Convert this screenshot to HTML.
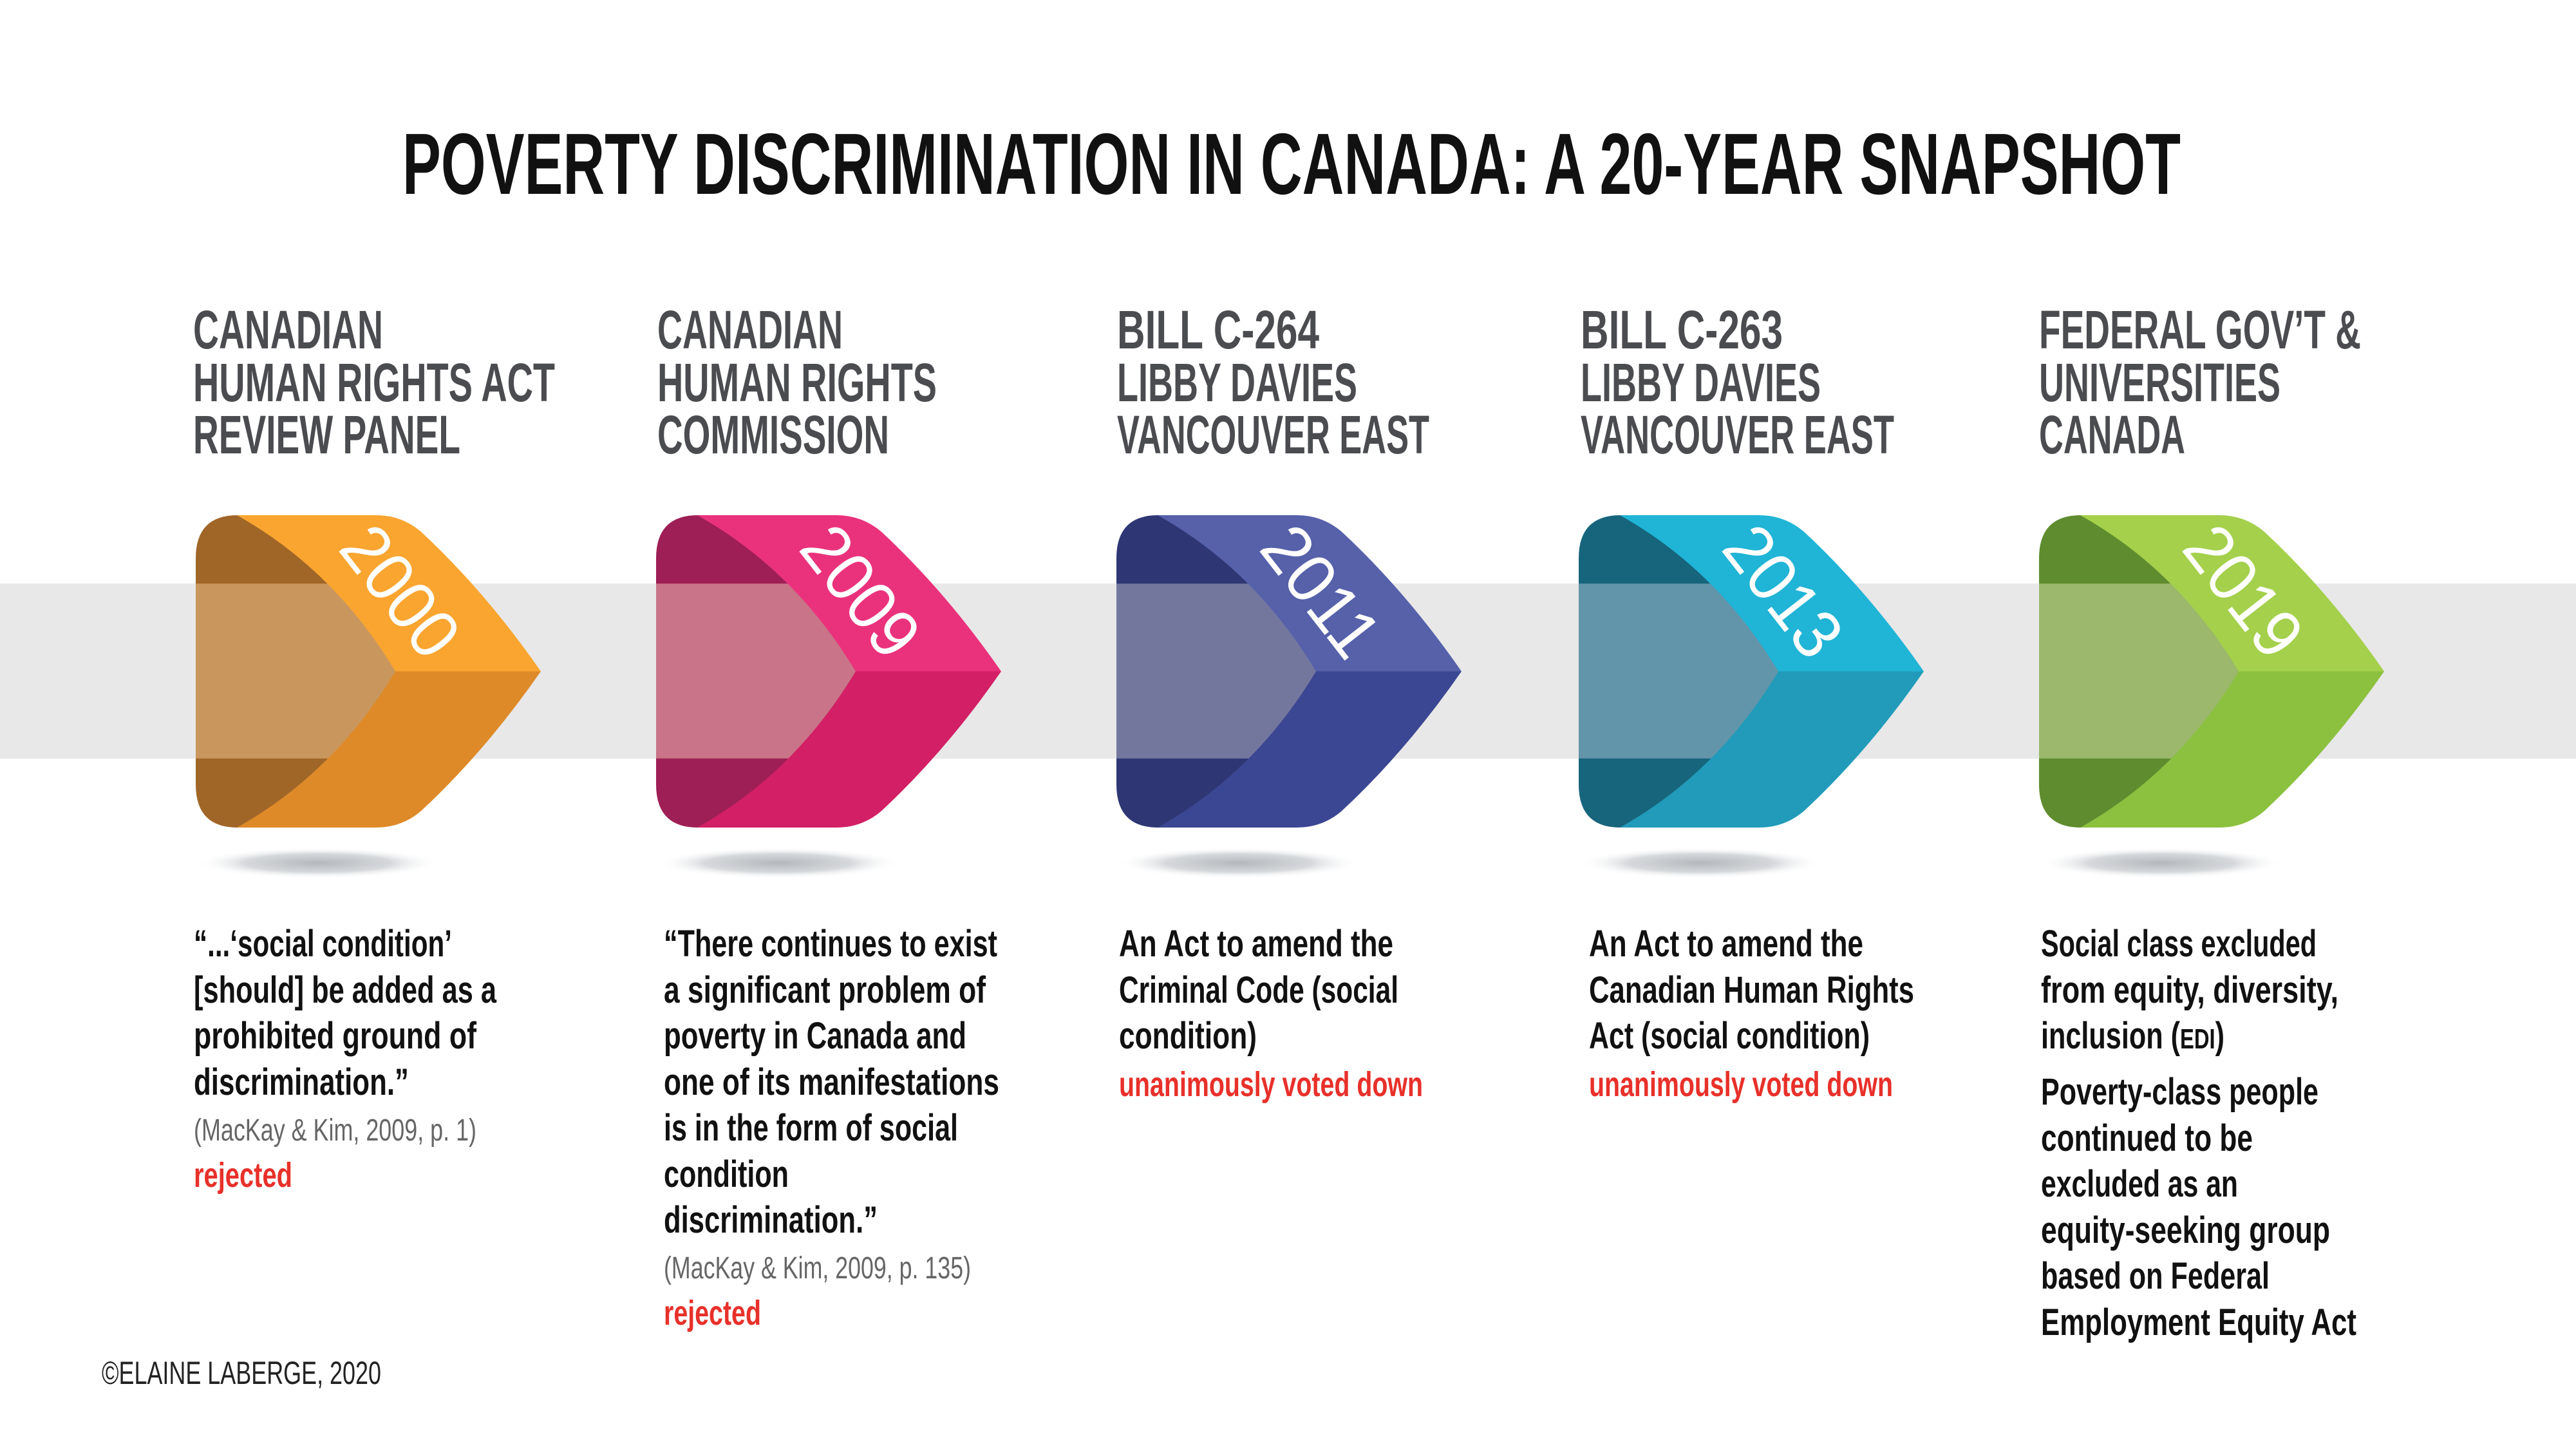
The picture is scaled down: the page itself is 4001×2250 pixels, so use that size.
<!DOCTYPE html>
<html><head><meta charset="utf-8"><style>
html,body{margin:0;padding:0;background:#fff;}
svg{display:block;}
text{font-family:"Liberation Sans Narrow","Liberation Sans",sans-serif;}
.h{font-size:84px;fill:#4b4c4f;font-weight:bold;}
.b{font-size:58px;fill:#111;font-weight:bold;}
.c{font-size:48px;fill:#666;}
.r{font-size:54px;fill:#e8302a;font-weight:bold;}
.y{font-size:108px;fill:#fff;}
</style></head><body>
<svg width="4001" height="2250" viewBox="0 0 4001 2250" xmlns="http://www.w3.org/2000/svg">
<defs>
<radialGradient id="sh" cx="50%" cy="50%" r="50%"><stop offset="0" stop-color="#b4b8bd"/><stop offset="0.6" stop-color="#d6d9dc"/><stop offset="1" stop-color="#fff" stop-opacity="0"/></radialGradient>
<clipPath id="bandc"><rect x="-10" y="103" width="600" height="263"/></clipPath>
</defs>
<rect width="4001" height="2250" fill="#fff"/>
<text x="625" y="301" font-size="135" font-weight="bold" fill="#111" textLength="2762" lengthAdjust="spacingAndGlyphs">POVERTY DISCRIMINATION IN CANADA: A 20-YEAR SNAPSHOT</text>

<text x="300" y="541" textLength="295" lengthAdjust="spacingAndGlyphs" class="h">CANADIAN</text>
<text x="300" y="623" textLength="562" lengthAdjust="spacingAndGlyphs" class="h">HUMAN RIGHTS ACT</text>
<text x="300" y="704" textLength="415" lengthAdjust="spacingAndGlyphs" class="h">REVIEW PANEL</text>
<text x="1021" y="541" textLength="288" lengthAdjust="spacingAndGlyphs" class="h">CANADIAN</text>
<text x="1021" y="623" textLength="434" lengthAdjust="spacingAndGlyphs" class="h">HUMAN RIGHTS</text>
<text x="1021" y="704" textLength="360" lengthAdjust="spacingAndGlyphs" class="h">COMMISSION</text>
<text x="1735" y="541" textLength="314" lengthAdjust="spacingAndGlyphs" class="h">BILL C-264</text>
<text x="1735" y="623" textLength="373" lengthAdjust="spacingAndGlyphs" class="h">LIBBY DAVIES</text>
<text x="1735" y="704" textLength="485" lengthAdjust="spacingAndGlyphs" class="h">VANCOUVER EAST</text>
<text x="2455" y="541" textLength="314" lengthAdjust="spacingAndGlyphs" class="h">BILL C-263</text>
<text x="2455" y="623" textLength="373" lengthAdjust="spacingAndGlyphs" class="h">LIBBY DAVIES</text>
<text x="2455" y="704" textLength="487" lengthAdjust="spacingAndGlyphs" class="h">VANCOUVER EAST</text>
<text x="3167" y="541" textLength="500" lengthAdjust="spacingAndGlyphs" class="h">FEDERAL GOV’T &amp;</text>
<text x="3167" y="623" textLength="375" lengthAdjust="spacingAndGlyphs" class="h">UNIVERSITIES</text>
<text x="3167" y="704" textLength="227" lengthAdjust="spacingAndGlyphs" class="h">CANADA</text>

<rect x="0" y="906" width="4001" height="272" fill="#e8e8e8"/>

<g transform="translate(304,800)">
<ellipse cx="190" cy="540" rx="190" ry="24" fill="url(#sh)"/>
<g transform="scale(1,1.032)">
<path d="M65,0 L200,0 L320,235 L200,470 L65,470 Q0,470 0,405 L0,65 Q0,0 65,0Z" fill="#a06628"/>
<path d="M65,0 L200,0 L320,235 L200,470 L65,470 Q0,470 0,405 L0,65 Q0,0 65,0Z" fill="#c9975e" clip-path="url(#bandc)"/>
<path d="M64,0 L280,0 Q320,0 350,25 Q450,115 536,235 L310,235 Q215,82 64,0Z" fill="#f9a530"/>
<path d="M310,235 L536,235 Q450,355 350,445 Q320,470 280,470 L64,470 Q215,388 310,235Z" fill="#de8a29"/>
</g>
<text class="y" transform="translate(318,118) rotate(52)" text-anchor="middle" dominant-baseline="central" textLength="225" lengthAdjust="spacingAndGlyphs">2000</text>
</g>
<g transform="translate(1019,800)">
<ellipse cx="190" cy="540" rx="190" ry="24" fill="url(#sh)"/>
<g transform="scale(1,1.032)">
<path d="M65,0 L200,0 L320,235 L200,470 L65,470 Q0,470 0,405 L0,65 Q0,0 65,0Z" fill="#9e1f55"/>
<path d="M65,0 L200,0 L320,235 L200,470 L65,470 Q0,470 0,405 L0,65 Q0,0 65,0Z" fill="#c97489" clip-path="url(#bandc)"/>
<path d="M64,0 L280,0 Q320,0 350,25 Q450,115 536,235 L310,235 Q215,82 64,0Z" fill="#ea327c"/>
<path d="M310,235 L536,235 Q450,355 350,445 Q320,470 280,470 L64,470 Q215,388 310,235Z" fill="#d21f65"/>
</g>
<text class="y" transform="translate(318,118) rotate(52)" text-anchor="middle" dominant-baseline="central" textLength="225" lengthAdjust="spacingAndGlyphs">2009</text>
</g>
<g transform="translate(1734,800)">
<ellipse cx="190" cy="540" rx="190" ry="24" fill="url(#sh)"/>
<g transform="scale(1,1.032)">
<path d="M65,0 L200,0 L320,235 L200,470 L65,470 Q0,470 0,405 L0,65 Q0,0 65,0Z" fill="#2e3774"/>
<path d="M65,0 L200,0 L320,235 L200,470 L65,470 Q0,470 0,405 L0,65 Q0,0 65,0Z" fill="#74779d" clip-path="url(#bandc)"/>
<path d="M64,0 L280,0 Q320,0 350,25 Q450,115 536,235 L310,235 Q215,82 64,0Z" fill="#5661aa"/>
<path d="M310,235 L536,235 Q450,355 350,445 Q320,470 280,470 L64,470 Q215,388 310,235Z" fill="#3b4792"/>
</g>
<text class="y" transform="translate(318,118) rotate(52)" text-anchor="middle" dominant-baseline="central" textLength="225" lengthAdjust="spacingAndGlyphs">2011</text>
</g>
<g transform="translate(2452,800)">
<ellipse cx="190" cy="540" rx="190" ry="24" fill="url(#sh)"/>
<g transform="scale(1,1.032)">
<path d="M65,0 L200,0 L320,235 L200,470 L65,470 Q0,470 0,405 L0,65 Q0,0 65,0Z" fill="#17657c"/>
<path d="M65,0 L200,0 L320,235 L200,470 L65,470 Q0,470 0,405 L0,65 Q0,0 65,0Z" fill="#6295aa" clip-path="url(#bandc)"/>
<path d="M64,0 L280,0 Q320,0 350,25 Q450,115 536,235 L310,235 Q215,82 64,0Z" fill="#20b4d6"/>
<path d="M310,235 L536,235 Q450,355 350,445 Q320,470 280,470 L64,470 Q215,388 310,235Z" fill="#219bb9"/>
</g>
<text class="y" transform="translate(318,118) rotate(52)" text-anchor="middle" dominant-baseline="central" textLength="225" lengthAdjust="spacingAndGlyphs">2013</text>
</g>
<g transform="translate(3167,800)">
<ellipse cx="190" cy="540" rx="190" ry="24" fill="url(#sh)"/>
<g transform="scale(1,1.032)">
<path d="M65,0 L200,0 L320,235 L200,470 L65,470 Q0,470 0,405 L0,65 Q0,0 65,0Z" fill="#5f8c2f"/>
<path d="M65,0 L200,0 L320,235 L200,470 L65,470 Q0,470 0,405 L0,65 Q0,0 65,0Z" fill="#9bb86c" clip-path="url(#bandc)"/>
<path d="M64,0 L280,0 Q320,0 350,25 Q450,115 536,235 L310,235 Q215,82 64,0Z" fill="#a4d04b"/>
<path d="M310,235 L536,235 Q450,355 350,445 Q320,470 280,470 L64,470 Q215,388 310,235Z" fill="#8bc13f"/>
</g>
<text class="y" transform="translate(318,118) rotate(52)" text-anchor="middle" dominant-baseline="central" textLength="225" lengthAdjust="spacingAndGlyphs">2019</text>
</g>

<text class="b" x="301" y="1485" textLength="401" lengthAdjust="spacingAndGlyphs">“...‘social condition’</text>
<text class="b" x="301" y="1557" textLength="470" lengthAdjust="spacingAndGlyphs">[should] be added as a</text>
<text class="b" x="301" y="1628" textLength="439" lengthAdjust="spacingAndGlyphs">prohibited ground of</text>
<text class="b" x="301" y="1700" textLength="334" lengthAdjust="spacingAndGlyphs">discrimination.”</text>
<text class="c" x="301" y="1771" textLength="439" lengthAdjust="spacingAndGlyphs">(MacKay &amp; Kim, 2009, p. 1)</text>
<text class="r" x="301" y="1843" textLength="153" lengthAdjust="spacingAndGlyphs">rejected</text>

<text class="b" x="1031" y="1485" textLength="518" lengthAdjust="spacingAndGlyphs">“There continues to exist</text>
<text class="b" x="1031" y="1557" textLength="500" lengthAdjust="spacingAndGlyphs">a significant problem of</text>
<text class="b" x="1031" y="1628" textLength="470" lengthAdjust="spacingAndGlyphs">poverty in Canada and</text>
<text class="b" x="1031" y="1700" textLength="521" lengthAdjust="spacingAndGlyphs">one of its manifestations</text>
<text class="b" x="1031" y="1771" textLength="457" lengthAdjust="spacingAndGlyphs">is in the form of social</text>
<text class="b" x="1031" y="1843" textLength="194" lengthAdjust="spacingAndGlyphs">condition</text>
<text class="b" x="1031" y="1914" textLength="332" lengthAdjust="spacingAndGlyphs">discrimination.”</text>
<text class="c" x="1031" y="1985" textLength="477" lengthAdjust="spacingAndGlyphs">(MacKay &amp; Kim, 2009, p. 135)</text>
<text class="r" x="1031" y="2057" textLength="151" lengthAdjust="spacingAndGlyphs">rejected</text>

<text class="b" x="1738" y="1485" textLength="426" lengthAdjust="spacingAndGlyphs">An Act to amend the</text>
<text class="b" x="1738" y="1557" textLength="434" lengthAdjust="spacingAndGlyphs">Criminal Code (social</text>
<text class="b" x="1738" y="1628" textLength="214" lengthAdjust="spacingAndGlyphs">condition)</text>
<text class="r" x="1738" y="1702" textLength="472" lengthAdjust="spacingAndGlyphs">unanimously voted down</text>

<text class="b" x="2468" y="1485" textLength="426" lengthAdjust="spacingAndGlyphs">An Act to amend the</text>
<text class="b" x="2468" y="1557" textLength="505" lengthAdjust="spacingAndGlyphs">Canadian Human Rights</text>
<text class="b" x="2468" y="1628" textLength="436" lengthAdjust="spacingAndGlyphs">Act (social condition)</text>
<text class="r" x="2468" y="1702" textLength="472" lengthAdjust="spacingAndGlyphs">unanimously voted down</text>

<text class="b" x="3170" y="1485" textLength="428" lengthAdjust="spacingAndGlyphs">Social class excluded</text>
<text class="b" x="3170" y="1557" textLength="462" lengthAdjust="spacingAndGlyphs">from equity, diversity,</text>
<text class="b" x="3170" y="1628" textLength="285" lengthAdjust="spacingAndGlyphs">inclusion (<tspan font-size="44">EDI</tspan>)</text>
<text class="b" x="3170" y="1715" textLength="431" lengthAdjust="spacingAndGlyphs">Poverty-class people</text>
<text class="b" x="3170" y="1787" textLength="329" lengthAdjust="spacingAndGlyphs">continued to be</text>
<text class="b" x="3170" y="1858" textLength="306" lengthAdjust="spacingAndGlyphs">excluded as an</text>
<text class="b" x="3170" y="1930" textLength="449" lengthAdjust="spacingAndGlyphs">equity-seeking group</text>
<text class="b" x="3170" y="2001" textLength="355" lengthAdjust="spacingAndGlyphs">based on Federal</text>
<text class="b" x="3170" y="2073" textLength="490" lengthAdjust="spacingAndGlyphs">Employment Equity Act</text>

<text x="158" y="2149" font-size="50" fill="#222" textLength="434" lengthAdjust="spacingAndGlyphs">©ELAINE LABERGE, 2020</text>
</svg>
</body></html>
